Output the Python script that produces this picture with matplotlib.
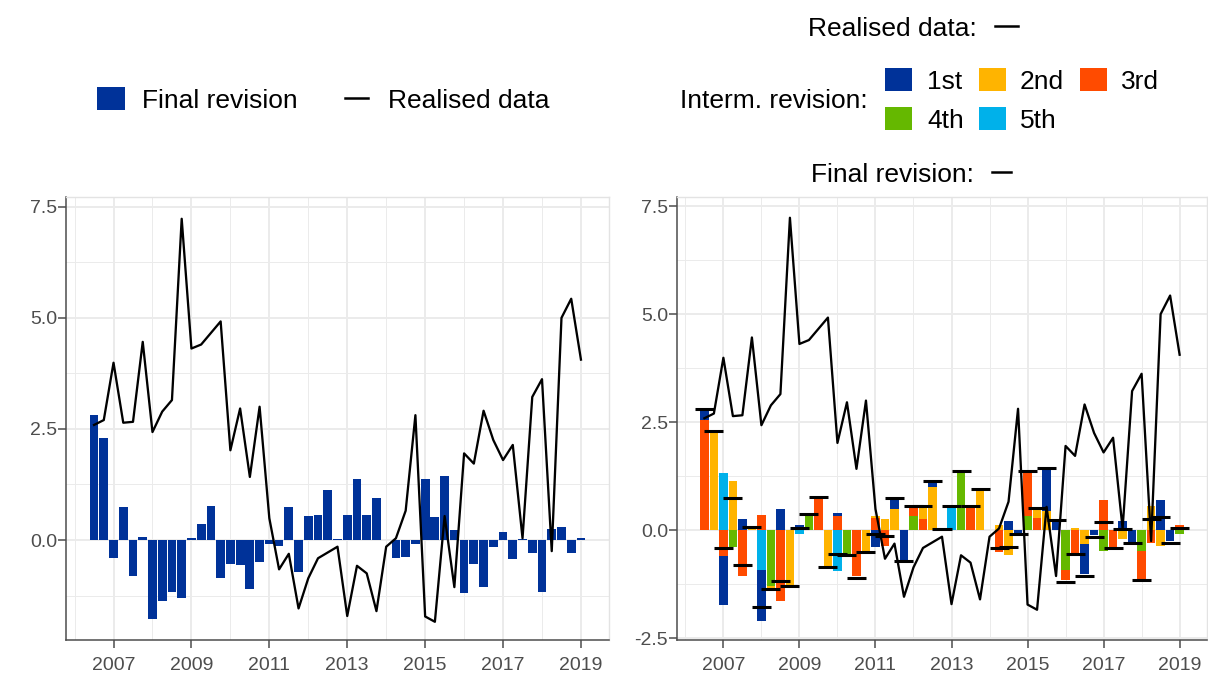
import matplotlib
matplotlib.use('Agg')
import matplotlib.pyplot as plt
import matplotlib.ticker as mt
from matplotlib.patches import Rectangle
from matplotlib.lines import Line2D
import numpy as np
import pandas as pd

plt.rcParams['font.family'] = ['Liberation Sans', 'DejaVu Sans']
plt.rcParams['axes.unicode_minus'] = False

# Data: quarterly, 2006Q3 - 2019Q1
quarters = pd.period_range('2006Q3', '2019Q1', freq='Q')

realised = [2.59, 2.70, 3.99, 2.64, 2.66, 4.46, 2.43, 2.89, 3.15, 7.23,
            4.31, 4.40, 4.66, 4.92, 2.02, 2.96, 1.42, 3.00, 0.49, -0.66,
            -0.31, -1.54, -0.86, -0.41, -0.28, -0.15, -1.71, -0.58, -0.75, -1.60,
            -0.15, 0.04, 0.66, 2.81, -1.72, -1.84, 0.54, -1.06, 1.95, 1.72,
            2.91, 2.25, 1.80, 2.14, 0.04, 3.22, 3.62, -0.25, 5.00, 5.43,
            4.06]

final_rev = [2.81, 2.29, -0.40, 0.75, -0.80, 0.07, -1.77, -1.37, -1.18, -1.30,
             0.05, 0.37, 0.76, -0.86, -0.55, -0.57, -1.10, -0.50, -0.08, -0.13,
             0.74, -0.72, 0.55, 0.57, 1.13, 0.03, 0.57, 1.37, 0.56, 0.95,
             np.nan, -0.40, -0.38, -0.09, 1.38, 0.52, 1.45, 0.23, -1.19, -0.54,
             -1.05, -0.15, 0.18, -0.42, 0.02, -0.29, -1.16, 0.25, 0.30, -0.29,
             0.04]

rev_1st = [0.25, 0, -1.12, 0, 0.27, 0, -1.17, 0, 0.48, 0,
           0.13, 0, 0, 0, 0.08, 0, 0, 0, -0.38, 0,
           0.22, -0.69, 0, 0, 0.12, 0, 0, 0, 0, 0,
           0, 0, 0.22, -0.08, 0, 0, 0.97, 0.22, 0, 0,
           -0.70, -0.12, 0, 0, 0.22, -0.27, 0, 0, 0.70, -0.26,
           0]

rev_2nd = [0, 2.28, 0, 1.15, 0, 0.07, 0, -0.07, 0, -1.28,
           0, 0, 0, -0.84, 0, 0, 0, -0.48, 0.04, 0.25,
           0.50, 0, 0, 0.29, 0.99, 0.03, 0, 0, 0, 0.94,
           0, 0.13, -0.58, 0, 0, 0.20, 0.45, 0, 0, 0.06,
           -0.31, 0, 0, 0, -0.20, 0, 0, 0.57, -0.37, 0,
           0]

rev_3rd = [2.55, 0, -0.60, 0, -1.06, 0, 0.36, 0, -1.64, 0,
           0, 0, 0.75, 0, 0.32, 0, -1.07, 0, 0.28, -0.37,
           0, 0, 0.23, 0.25, 0, 0, 0, 0, 0.55, 0,
           0, -0.51, 0, 0, 1.04, 0.29, 0, 0, -0.24, -0.57,
           0, 0, 0.69, -0.40, 0, 0, -0.66, -0.29, 0, 0,
           0.13]

rev_4th = [0, 0, 0, -0.39, 0, 0, 0, -1.28, 0, 0,
           0, 0.36, 0, 0, 0, -0.55, 0, 0, 0, 0,
           0, 0, 0.32, 0, 0, 0, 0, 1.34, 0, 0,
           0, 0, 0, 0, 0.34, 0, 0, 0, -0.91, 0,
           0, 0, -0.47, 0, 0, 0, -0.47, 0, 0, 0,
           -0.08]

rev_5th = [0, 0, 1.33, 0, 0, 0, -0.93, 0, 0, 0,
           -0.08, 0, 0, 0, -0.95, 0, 0, 0, 0, 0,
           0, 0, 0, 0, 0, 0, 0.55, 0, 0, 0,
           0, 0, 0, 0, 0, 0, 0, 0, 0, 0,
           0, 0, 0, 0, 0, 0, 0, 0, 0, 0,
           0]

rev_names = ['1st', '2nd', '3rd', '4th', '5th']
rev_colors = ['#003299', '#FFB400', '#FF4B00', '#65B800', '#00B1EA']

W, H = 1208, 681
TICK_COL = '#4D4D4D'
GRID_COL = '#EBEBEB'
BAR_W = 0.225
LEG_FS = 19
TICK_FS = 14

x = np.array([q.year + (q.quarter - 1) / 4 for q in quarters])


def px_axes(fig, x0, y0, x1, y1):
    return fig.add_axes([x0 / W, 1 - y1 / H, (x1 - x0) / W, (y1 - y0) / H])


def style_axes(ax, ylim, yticks):
    ax.set_xlim(2005.78, 2019.72)
    ax.set_ylim(*ylim)
    ax.set_xticks(range(2007, 2020, 2))
    ax.set_xticks(range(2006, 2020, 2), minor=True)
    ax.set_yticks(yticks)
    ax.set_yticks([-1.25, 1.25, 3.75, 6.25], minor=True)
    ax.yaxis.set_major_formatter(mt.FormatStrFormatter('%.1f'))
    ax.grid(which='major', color=GRID_COL, lw=1.4)
    ax.grid(which='minor', color=GRID_COL, lw=0.7)
    ax.set_axisbelow(True)
    ax.tick_params(which='minor', length=0)
    ax.tick_params(which='major', length=5.5, width=1.1, color=TICK_COL,
                   labelsize=TICK_FS, labelcolor=TICK_COL)
    ax.tick_params(axis='x', pad=6.5)
    ax.tick_params(axis='y', pad=1)
    for s in ['top', 'right']:
        ax.spines[s].set_color('#E3E3E3')
        ax.spines[s].set_linewidth(1.0)
    for s in ['left', 'bottom']:
        ax.spines[s].set_color(TICK_COL)
        ax.spines[s].set_linewidth(1.1)


def key_box(fig, x0, y0, x1, y1, color):
    fig.add_artist(Rectangle((x0 / W, 1 - y1 / H), (x1 - x0) / W, (y1 - y0) / H,
                             transform=fig.transFigure, color=color, lw=0))


def key_line(fig, x0, x1, y, lw=1.8):
    fig.add_artist(Line2D([x0 / W, x1 / W], [1 - y / H, 1 - y / H],
                          transform=fig.transFigure, color='black', lw=lw))


def key_text(fig, x0, y, s):
    fig.text(x0 / W, 1 - y / H, s, fontsize=LEG_FS, va='baseline', ha='left')


fig = plt.figure(figsize=(W / 100, H / 100), dpi=100)

# Left panel: final revision vs realised data
ax1 = px_axes(fig, 66, 197, 609, 640)
ax1.bar(x, final_rev, width=BAR_W, color=rev_colors[0], lw=0)
ax1.plot(x, realised, color='black', lw=1.65)
style_axes(ax1, (-2.25, 7.72), [0, 2.5, 5, 7.5])

# Right panel: intermediate revisions, stacked like ggplot (1st furthest from 0)
ax2 = px_axes(fig, 677, 197, 1207, 640)
pos_base = np.zeros(len(x))
neg_base = np.zeros(len(x))
for vals, col in reversed(list(zip([rev_1st, rev_2nd, rev_3rd, rev_4th, rev_5th], rev_colors))):
    v = np.array(vals, dtype=float)
    pos = np.where(v > 0, v, 0)
    neg = np.where(v < 0, v, 0)
    ax2.bar(x, pos, bottom=pos_base, width=BAR_W, color=col, lw=0)
    ax2.bar(x, neg, bottom=neg_base, width=BAR_W, color=col, lw=0)
    pos_base += pos
    neg_base += neg
ax2.hlines(final_rev, x - 0.25, x + 0.25, color='black', lw=2.2)
ax2.plot(x, realised, color='black', lw=1.65)
style_axes(ax2, (-2.54, 7.71), [-2.5, 0, 2.5, 5, 7.5])

# Left legend
key_box(fig, 97, 87, 125, 110, rev_colors[0])
key_text(fig, 142, 107.5, 'Final revision')
key_line(fig, 345, 368, 98)
key_text(fig, 388, 107.5, 'Realised data')

# Right legend
key_text(fig, 808, 36.5, 'Realised data:')
key_line(fig, 995, 1018, 26)
key_text(fig, 680, 108.5, 'Interm. revision:')
key_pos = [(885, 68, 927, 89), (979, 68, 1020, 89), (1080, 68, 1121, 89),
           (885, 107, 927, 128), (979, 107, 1020, 128)]
for (bx, by, tx, ty), name, col in zip(key_pos, rev_names, rev_colors):
    key_box(fig, bx, by, bx + 27, by + 23, col)
    key_text(fig, tx, ty, name)
key_text(fig, 811, 181.5, 'Final revision:')
key_line(fig, 992, 1011, 172)

fig.savefig('out.png', dpi=100)
